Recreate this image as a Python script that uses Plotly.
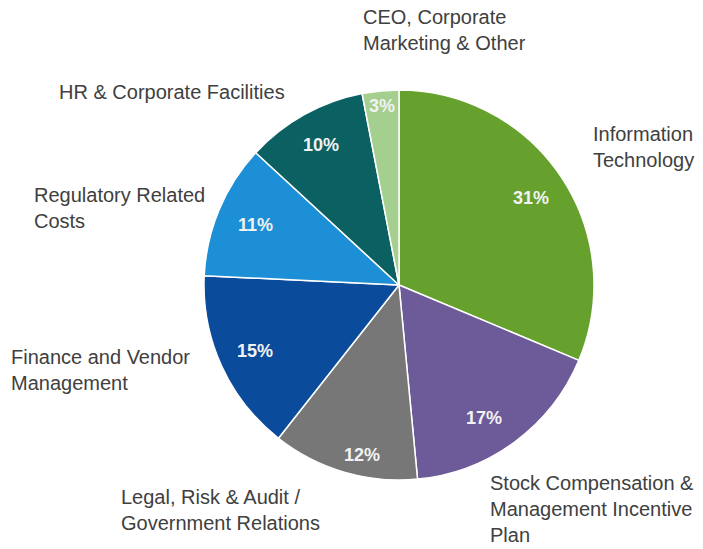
import math
import plotly.graph_objects as go

labels = ["Information Technology",
          "Stock Compensation & Management Incentive Plan",
          "Legal, Risk & Audit / Government Relations",
          "Finance and Vendor Management",
          "Regulatory Related Costs",
          "HR & Corporate Facilities",
          "CEO, Corporate Marketing & Other"]
values = [31, 17, 12, 15, 11, 10, 3]
colors = ["#66a12e", "#6d5a98", "#777777", "#0a4b9c", "#1c8fd6", "#0b6062", "#a4cf8e"]
display_labels = ["Information<br>Technology",
                  "Stock Compensation &<br>Management Incentive<br>Plan",
                  "Legal, Risk & Audit /<br>Government Relations",
                  "Finance and Vendor<br>Management",
                  "Regulatory Related<br>Costs",
                  "HR & Corporate Facilities",
                  "CEO, Corporate<br>Marketing & Other"]
label_xy = [(591, 147), (488, 509), (119, 510), (9, 370), (32, 208), (57, 92), (361, 30)]
pct_radius = [0.81, 0.81, 0.89, 0.81, 0.80, 0.82, 0.92]
pct_shift = [0, 4, -4, 0, 0, 0, 0]  # small angular tweaks in degrees

W, H = 703, 549
cx, cy, r = 399, 285, 195

fig = go.Figure(go.Pie(
    labels=labels, values=values, sort=False, direction="clockwise", rotation=0,
    marker=dict(colors=colors, line=dict(color="white", width=1.5)),
    textinfo="none",
    domain=dict(x=[(cx - r) / W, (cx + r) / W], y=[1 - (cy + r) / H, 1 - (cy - r) / H]),
    showlegend=False, hoverinfo="label+percent",
))

total = sum(values)
cum = 0
for v, k, s in zip(values, pct_radius, pct_shift):
    mid = (cum + v / 2) / total * 2 * math.pi + math.radians(s)
    cum += v
    px = cx + k * r * math.sin(mid)
    py = cy - k * r * math.cos(mid)
    fig.add_annotation(text=f"<b>{v}%</b>", x=px / W, y=1 - py / H, xref="paper", yref="paper",
                       xanchor="center", yanchor="middle", showarrow=False,
                       font=dict(family="Arial, Liberation Sans", size=18, color="#f2f2f2"))

for t, (x, y) in zip(display_labels, label_xy):
    fig.add_annotation(text=t, x=x / W, y=1 - y / H, xref="paper", yref="paper",
                       xanchor="left", yanchor="middle", align="left", showarrow=False,
                       font=dict(family="Arial, Liberation Sans", size=20, color="#404040"))

fig.update_layout(width=W, height=H, margin=dict(l=0, r=0, t=0, b=0),
                  paper_bgcolor="white", plot_bgcolor="white")
fig.write_html("out.html", config={"displayModeBar": False},
               post_script="document.body.style.margin='0';")
